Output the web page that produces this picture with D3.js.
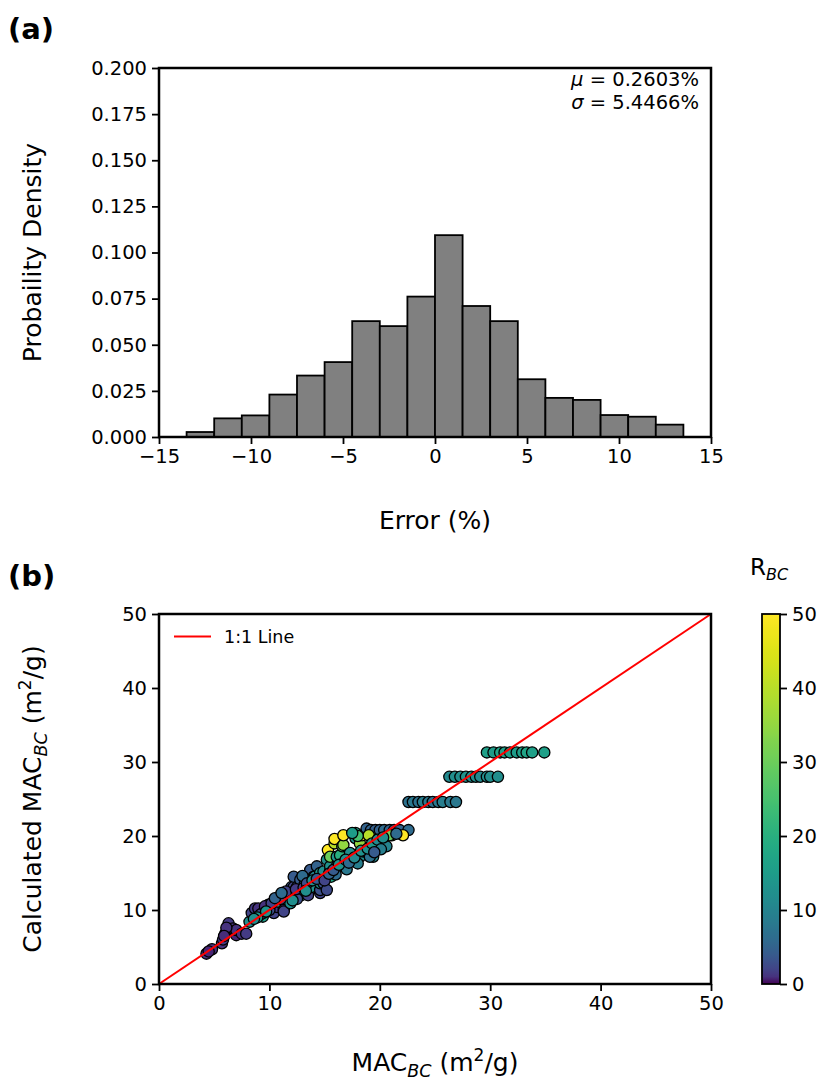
<!DOCTYPE html>
<html>
<head>
<meta charset="utf-8">
<script src="https://cdn.jsdelivr.net/npm/d3@7"></script>
<style>
  html, body { margin: 0; padding: 0; background: #fff; }
  svg { display: block; font-family: "DejaVu Sans", sans-serif; }
</style>
</head>
<body>
<svg id="chart" width="821" height="1082"></svg>
<script>
// ---------------- DATA ----------------
// (a) histogram of error (%)
const binEdges = [-13.5, -12, -10.5, -9, -7.5, -6, -4.5, -3, -1.5, 0, 1.5, 3, 4.5, 6, 7.5, 9, 10.5, 12, 13.5];
const density = [0.0027, 0.0101, 0.0117, 0.0230, 0.0333, 0.0406, 0.0628, 0.0601, 0.0761, 0.1094,
                 0.0710, 0.0628, 0.0313, 0.0212, 0.0201, 0.0119, 0.0110, 0.0067];
const histXTicks = [-15, -10, -5, 0, 5, 10, 15];
const histYTicks = [0, 0.025, 0.05, 0.075, 0.1, 0.125, 0.15, 0.175, 0.2];
const statLines = [["μ", " = 0.2603%"], ["σ", " = 5.4466%"]];

// (b) scatter: measured MAC_BC, calculated MAC_BC, R_BC
const macMeasured = [
  4.3, 4.8, 4.5, 5.7, 5.8, 6.0, 6.3, 6.4, 6.7, 7.0, 7.0, 7.5, 7.9, 6.1, 5.9,
  8.2, 8.4, 8.7, 9.0, 9.4, 9.4, 9.9, 10.4, 10.7, 10.8, 11.3, 11.3, 11.6, 11.9, 10.0, 9.2, 8.9,
  12.0, 12.0, 12.2, 12.2, 12.5, 12.8, 12.8, 12.9, 13.5, 13.7, 13.8, 14.0, 14.1, 14.3, 14.6, 14.6, 14.6, 14.6, 14.9, 14.9, 15.2, 13.2, 13.0, 12.5,
  15.2, 15.3, 15.5, 15.5, 15.5, 15.6, 15.9, 15.9, 16.1, 16.1, 16.4, 16.6, 16.7, 16.7, 16.7, 17.3, 17.3, 17.6, 17.8, 18.2, 18.2, 18.5, 18.4, 18.8, 18.8, 19.4, 19.7, 17.0, 16.0, 18.0, 19.1, 17.8,
  19.2, 19.6, 20.0, 20.4, 20.9, 21.3, 21.8, 22.6, 20.6, 21.1, 22.1, 20.9, 19.0, 18.0, 17.5,
  9.6, 10.2, 11.0, 11.5, 12.4, 13.1, 13.4, 13.9, 14.3, 15.0, 15.4, 15.8, 16.3, 16.9, 17.2,
  17.7, 18.3, 18.9, 19.3, 19.8, 20.3, 20.1, 21.5, 19.5, 12.1, 13.3, 10.5, 11.1, 9.7, 8.6,
  22.6, 23.0, 23.5, 23.9, 24.4, 24.8, 25.3, 25.7, 26.4, 26.9,
  26.3, 26.8, 27.3, 27.8, 28.3, 28.7, 29.1, 29.7, 30.0, 30.7,
  29.7, 30.3, 30.9, 31.3, 31.8, 32.4, 32.9, 33.3, 33.8, 34.9
];
const macCalculated = [
  4.1, 4.7, 4.4, 5.5, 6.0, 6.8, 8.2, 7.2, 7.5, 6.6, 7.3, 6.8, 6.8, 7.6, 6.5,
  8.4, 9.6, 10.2, 10.2, 9.1, 9.6, 10.7, 9.6, 10.4, 11.1, 10.0, 9.8, 11.8, 10.9, 10.0, 9.4, 9.0,
  12.9, 13.1, 13.1, 14.5, 13.1, 12.3, 14.1, 12.0, 12.0, 15.4, 13.1, 14.5, 14.5, 15.9, 12.3, 12.7, 13.6, 15.0, 13.6, 15.2, 12.7, 13.5, 14.6, 11.5,
  16.8, 18.1, 15.2, 15.9, 17.2, 14.5, 19.0, 19.6, 15.9, 17.2, 17.4, 18.6, 18.8, 16.3, 20.1, 17.2, 17.7, 16.8, 19.7, 17.2, 19.0, 17.9, 20.1, 17.9, 21.0, 17.2, 20.1, 15.5, 14.8, 16.3, 17.2, 20.4,
  20.8, 20.8, 20.8, 20.8, 20.8, 20.8, 20.8, 20.8, 18.6, 20.1, 20.1, 20.1, 20.1, 20.0, 20.4,
  10.5, 10.9, 11.5, 12.5, 12.8, 13.0, 13.6, 14.0, 14.2, 14.0, 14.9, 15.4, 16.1, 16.8, 16.4,
  17.1, 18.0, 18.3, 19.0, 19.5, 19.8, 18.2, 20.3, 17.8, 11.3, 12.6, 11.6, 12.3, 9.8, 8.8,
  24.6, 24.6, 24.6, 24.6, 24.6, 24.6, 24.6, 24.6, 24.6, 24.6,
  28.0, 28.0, 28.0, 28.0, 28.0, 28.0, 28.0, 28.0, 28.0, 28.0,
  31.3, 31.3, 31.3, 31.3, 31.3, 31.3, 31.3, 31.3, 31.3, 31.3
];
const rBC = [
  1, 1, 0.5, 1, 1.5, 1, 1.5, 2, 1, 0.5, 1, 1, 1.5, 1, 0.8,
  12, 2, 1.5, 1, 15, 1.5, 10, 2, 1.5, 12, 1, 2, 13, 12, 3, 2.5, 14,
  5, 4, 2, 4, 3, 13, 4, 12, 2, 4, 12, 13, 10, 5, 2, 3, 13, 14, 3, 12, 2.5, 8, 6, 3,
  12, 50, 11, 13, 30, 18, 40, 50, 12, 14, 20, 28, 35, 11, 50, 18, 12, 10, 14, 12, 35, 13, 50, 12, 5, 11, 50, 8, 6, 9, 7, 15,
  5, 4.5, 5, 6, 5, 4, 5, 6, 10, 50, 50, 30, 40, 25, 15,
  1, 2, 3, 2, 1.5, 2, 3, 12, 4, 2, 5, 4, 13, 12, 6,
  11, 13, 12, 14, 11, 12, 9, 6, 4, 12, 12, 5, 6, 13, 12,
  7, 8, 7, 9, 8, 7, 8, 9, 8, 8,
  11, 12, 12, 13, 12, 12, 11, 12, 12, 12,
  16, 15, 17, 16, 16, 15, 16, 17, 16, 16
];
const scatterTicks = [0, 10, 20, 30, 40, 50];
const colorbarTicks = [0, 10, 20, 30, 40, 50];
const oneToOne = [[0, 0], [50, 50]];

// ---------------- DRAWING ----------------
const svg = d3.select("#chart");
const tickFont = 19.5, labelFont = 25;

function frame(g, x0, x1, y0, y1) {
  g.append("rect").attr("x", x0).attr("y", y0).attr("width", x1 - x0).attr("height", y1 - y0)
    .attr("fill", "none").attr("stroke", "#000").attr("stroke-width", 2.5);
}
function styleAxis(sel) {
  sel.select(".domain").remove();
  sel.selectAll(".tick line").attr("stroke", "#000").attr("stroke-width", 1.8);
  sel.selectAll(".tick text").attr("font-size", tickFont).attr("fill", "#000")
     .attr("font-family", "DejaVu Sans");
}

// ----- Panel (a) -----
const ax = { left: 159, right: 711, top: 68, bottom: 437 };
const xA = d3.scaleLinear().domain([-15, 15]).range([ax.left, ax.right]);
const yA = d3.scaleLinear().domain([0, 0.2]).range([ax.bottom, ax.top]);

const bars = binEdges.slice(0, -1).map((e, i) => ({ x0: e, x1: binEdges[i + 1], d: density[i] }));
svg.append("g").selectAll("rect").data(bars).join("rect")
  .attr("x", d => xA(d.x0)).attr("width", d => xA(d.x1) - xA(d.x0))
  .attr("y", d => yA(d.d)).attr("height", d => yA(0) - yA(d.d))
  .attr("fill", "#808080").attr("stroke", "#000").attr("stroke-width", 1.8);

svg.append("g").attr("transform", `translate(0,${ax.bottom})`)
  .call(d3.axisBottom(xA).tickValues(histXTicks).tickSize(7).tickPadding(5)).call(styleAxis);
svg.append("g").attr("transform", `translate(${ax.left},0)`)
  .call(d3.axisLeft(yA).tickValues(histYTicks).tickFormat(d3.format(".3f")).tickSize(7).tickPadding(5)).call(styleAxis);
frame(svg, ax.left, ax.right, ax.top, ax.bottom);

const stat = svg.append("g");
statLines.forEach((s, i) => {
  const t = stat.append("text").attr("x", 699).attr("y", 86 + i * 23)
    .attr("text-anchor", "end").attr("font-size", 19.5);
  t.append("tspan").attr("font-style", "italic").text(s[0]);
  t.append("tspan").text(s[1]);
});

svg.append("text").attr("x", 435).attr("y", 529).attr("text-anchor", "middle")
  .attr("font-size", labelFont).text("Error (%)");
svg.append("text").attr("transform", `translate(41,${(ax.top + ax.bottom) / 2}) rotate(-90)`)
  .attr("text-anchor", "middle").attr("font-size", labelFont).text("Probaility Density");
svg.append("text").attr("x", 8).attr("y", 39).attr("font-size", 29).attr("font-weight", "bold").text("(a)");

// ----- Panel (b) -----
const bx = { left: 159, right: 711, top: 614, bottom: 984 };
const xB = d3.scaleLinear().domain([0, 50]).range([bx.left, bx.right]);
const yB = d3.scaleLinear().domain([0, 50]).range([bx.bottom, bx.top]);
const color = d3.scaleSequentialSqrt(d3.interpolateViridis).domain([0, 50]);

const pts = macMeasured.map((m, i) => ({ x: m, y: macCalculated[i], r: rBC[i] }));
svg.append("g").selectAll("circle").data(pts).join("circle")
  .attr("cx", d => xB(d.x)).attr("cy", d => yB(d.y)).attr("r", 5.6)
  .attr("fill", d => color(d.r)).attr("stroke", "#000").attr("stroke-width", 1.3);

svg.append("line")
  .attr("x1", xB(oneToOne[0][0])).attr("y1", yB(oneToOne[0][1]))
  .attr("x2", xB(oneToOne[1][0])).attr("y2", yB(oneToOne[1][1]))
  .attr("stroke", "#ff0000").attr("stroke-width", 2);

svg.append("g").attr("transform", `translate(0,${bx.bottom})`)
  .call(d3.axisBottom(xB).tickValues(scatterTicks).tickSize(7).tickPadding(5)).call(styleAxis);
svg.append("g").attr("transform", `translate(${bx.left},0)`)
  .call(d3.axisLeft(yB).tickValues(scatterTicks).tickSize(7).tickPadding(5)).call(styleAxis);
frame(svg, bx.left, bx.right, bx.top, bx.bottom);

// legend
svg.append("line").attr("x1", 174).attr("x2", 211).attr("y1", 636.5).attr("y2", 636.5)
  .attr("stroke", "#ff0000").attr("stroke-width", 2);
svg.append("text").attr("x", 224).attr("y", 642.5).attr("font-size", 17.5).text("1:1 Line");

// axis labels with subscripts
function macLabel(t, prefix) {
  if (prefix) t.append("tspan").text(prefix);
  t.append("tspan").text("MAC");
  t.append("tspan").attr("font-style", "italic").attr("font-size", 17.5).attr("dy", 6).text("BC");
  t.append("tspan").attr("dy", -6).text(" (m");
  t.append("tspan").attr("font-size", 17).attr("dy", -10).text("2");
  t.append("tspan").attr("dy", 10).text("/g)");
}
macLabel(svg.append("text").attr("x", 435).attr("y", 1071).attr("text-anchor", "middle")
  .attr("font-size", labelFont), null);
macLabel(svg.append("text").attr("transform", `translate(41,${(bx.top + bx.bottom) / 2}) rotate(-90)`)
  .attr("text-anchor", "middle").attr("font-size", labelFont), "Calculated ");
svg.append("text").attr("x", 8).attr("y", 586).attr("font-size", 29).attr("font-weight", "bold").text("(b)");

// colorbar
const cb = { left: 762, right: 780, top: 614, bottom: 984 };
const yC = d3.scaleLinear().domain([0, 50]).range([cb.bottom, cb.top]);
const defs = svg.append("defs");
const grad = defs.append("linearGradient").attr("id", "cbgrad")
  .attr("x1", 0).attr("y1", 1).attr("x2", 0).attr("y2", 0);
d3.range(0, 51).forEach(i => {
  grad.append("stop").attr("offset", i / 50).attr("stop-color", color(i));
});
svg.append("rect").attr("x", cb.left).attr("y", cb.top).attr("width", cb.right - cb.left)
  .attr("height", cb.bottom - cb.top).attr("fill", "url(#cbgrad)");
svg.append("g").attr("transform", `translate(${cb.right},0)`)
  .call(d3.axisRight(yC).tickValues(colorbarTicks).tickSize(7).tickPadding(5)).call(styleAxis);
svg.append("rect").attr("x", cb.left).attr("y", cb.top).attr("width", cb.right - cb.left)
  .attr("height", cb.bottom - cb.top).attr("fill", "none").attr("stroke", "#000").attr("stroke-width", 1.8);
const cbt = svg.append("text").attr("x", 750).attr("y", 575).attr("font-size", 23);
cbt.append("tspan").text("R");
cbt.append("tspan").attr("font-style", "italic").attr("font-size", 16).attr("dy", 5).text("BC");
</script>
</body>
</html>
